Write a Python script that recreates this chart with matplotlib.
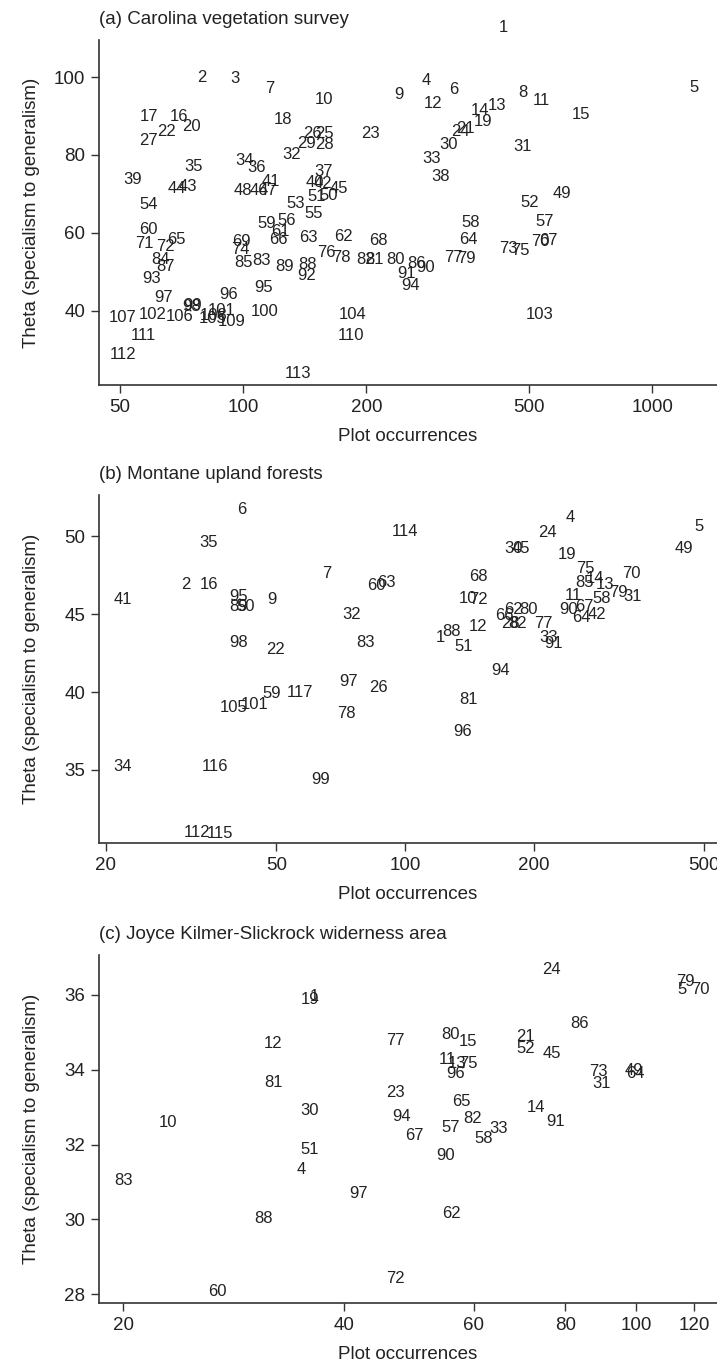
import matplotlib
matplotlib.use("Agg")
import matplotlib.pyplot as plt
from matplotlib.ticker import FixedLocator, NullLocator

plt.rcParams['font.family'] = ['Liberation Sans', 'DejaVu Sans']

# (a) Carolina vegetation survey
a_lab = ['1', '2', '3', '4', '5', '6', '7', '8', '9', '10', '11', '12', '13', '14', '15', '16', '17', '18', '19', '20',
         '21', '22', '23', '24', '25', '26', '27', '28', '29', '30', '31', '32', '33', '34', '35', '36', '37', '38', '39', '40',
         '41', '42', '43', '44', '45', '46', '47', '48', '49', '50', '51', '52', '53', '54', '55', '56', '57', '58', '59', '60',
         '61', '62', '63', '64', '65', '66', '67', '68', '69', '70', '71', '72', '73', '74', '75', '76', '77', '78', '79', '80',
         '81', '82', '83', '84', '85', '86', '87', '88', '89', '90', '91', '92', '93', '94', '95', '96', '97', '98', '99', '100',
         '101', '102', '103', '104', '105', '106', '107', '108', '109', '110', '111', '112', '113']
a_occ = [432, 79.4, 95.5, 281, 1266, 328, 116, 482, 241, 158, 537, 291, 417, 380, 669, 69.8, 59.0, 125, 385, 74.8,
         349, 64.8, 205, 339, 158, 148, 58.7, 158, 143, 317, 482, 131, 289, 100.5, 75.8, 108, 157, 304, 53.7, 150,
         117, 157, 73.2, 68.8, 171, 109, 115, 100, 601, 161.5, 151, 501, 134, 58.7, 148.5, 128, 547, 359, 114, 58.7,
         123, 176, 144, 355, 68.8, 122, 557, 214, 98.8, 532, 57.3, 64.4, 445, 98.4, 475, 159.5, 326, 174, 352, 236,
         210, 199, 111, 62.6, 100, 265, 64.4, 144, 126, 280, 251, 143, 59.8, 257, 112, 92, 63.8, 74.8, 75.3, 113,
         88.7, 60.1, 532, 185, 84, 69.8, 50.8, 84.6, 93.8, 183.5, 57.0, 50.9, 136]
a_theta = [112.8, 100.0, 99.7, 99.1, 97.4, 96.8, 97.1, 96.1, 95.4, 94.3, 94.1, 93.3, 92.8, 91.5, 90.3, 90.0, 89.8, 89.0, 88.5, 87.4,
           86.8, 86.0, 85.4, 86.0, 85.4, 85.4, 83.7, 82.8, 83.0, 82.6, 82.1, 80.0, 79.2, 78.5, 77.0, 76.8, 75.7, 74.4, 73.6, 72.9,
           73.2, 72.7, 71.9, 71.5, 71.5, 71.0, 70.8, 70.8, 70.2, 69.5, 69.3, 67.8, 67.6, 67.2, 64.9, 63.3, 62.9, 62.6, 62.5, 60.9,
           60.3, 59.1, 58.9, 58.4, 58.4, 58.2, 58.0, 58.0, 57.8, 57.8, 57.4, 56.5, 56.1, 55.8, 55.5, 55.0, 53.8, 53.8, 53.5, 53.3,
           53.1, 53.1, 52.9, 53.1, 52.4, 52.2, 51.5, 51.8, 51.4, 51.2, 49.5, 49.0, 48.4, 46.4, 46.1, 44.1, 43.5, 41.1, 41.4, 39.8,
           40.0, 39.2, 39.0, 39.0, 38.1, 38.5, 38.3, 38.7, 37.3, 33.8, 33.8, 28.7, 24.0]

# (b) Montane upland forests
b_lab = ['1', '2', '4', '5', '6', '7', '9', '10', '11', '12', '13', '14', '16', '19', '22', '24', '26', '28', '30', '31',
         '32', '33', '34', '35', '41', '42', '45', '49', '50', '51', '58', '59', '60', '62', '63', '64', '66', '67', '68', '70',
         '72', '75', '77', '78', '79', '80', '81', '82', '83', '85', '88', '89', '90', '91', '94', '95', '96', '97', '98', '99',
         '101', '105', '112', '114', '115', '116', '117']
b_occ = [120.6, 30.8, 242.8, 486.6, 41.6, 65.6, 48.8, 140.4, 247, 148.2, 293, 277.7, 34.8, 238.5, 49.9, 215.4, 86.5, 175.8, 178.9, 340,
         75, 216, 21.9, 34.8, 21.9, 280, 186, 448.8, 42.5, 136.7, 288, 48.8, 85.5, 178.9, 90.6, 258.5, 171, 263, 148.2, 337,
         148.2, 263.2, 210, 73, 314.8, 194, 141, 183, 80.6, 263, 128.5, 40.8, 240.6, 221.8, 167.5, 40.8, 136.3, 73.7, 40.8, 63.5,
         44.6, 39.7, 32.7, 99.9, 36.9, 36, 56.8]
b_theta = [43.5, 46.9, 51.2, 50.6, 51.7, 47.6, 45.9, 46.0, 46.2, 44.2, 46.9, 47.3, 46.9, 48.8, 42.7, 50.2, 40.3, 44.4, 49.2, 46.1,
           45.0, 43.5, 35.2, 49.6, 45.9, 45.0, 49.2, 49.2, 45.5, 42.9, 46.0, 39.9, 46.8, 45.3, 47.0, 44.8, 44.9, 45.5, 47.4, 47.6,
           45.9, 47.9, 44.4, 38.6, 46.4, 45.3, 39.5, 44.4, 43.2, 47.0, 43.9, 45.5, 45.3, 43.1, 41.4, 46.1, 37.5, 40.7, 43.2, 34.4,
           39.2, 39.0, 31.0, 50.3, 30.9, 35.2, 40.0]

# (c) Joyce Kilmer-Slickrock wilderness area
c_lab = ['1', '4', '5', '10', '11', '12', '13', '14', '15', '19', '21', '23', '24', '30', '31', '33', '45', '49', '51', '52',
         '57', '58', '60', '62', '64', '65', '67', '70', '72', '73', '75', '77', '79', '80', '81', '82', '83', '86', '88', '90',
         '91', '94', '96', '97']
c_occ = [36.4, 34.9, 115.3, 23.0, 55.2, 32.0, 57.0, 72.9, 59.0, 35.9, 70.7, 47.0, 76.7, 35.9, 89.7, 64.9, 76.8, 99.1, 35.9, 70.7,
         55.9, 61.9, 26.9, 55.9, 99.6, 57.8, 49.8, 122.1, 47.0, 88.7, 59.0, 47.0, 116.5, 55.9, 32.0, 59.8, 20.0, 83.8, 31.0, 54.9,
         77.7, 47.9, 56.8, 41.9]
c_theta = [35.95, 31.34, 36.15, 32.6, 34.28, 34.7, 34.17, 32.99, 34.75, 35.87, 34.9, 33.39, 36.67, 32.9, 33.62, 32.44, 34.44, 33.98, 31.86, 34.57,
           32.46, 32.17, 28.07, 30.16, 33.89, 33.15, 32.24, 36.15, 28.41, 33.95, 34.17, 34.78, 36.36, 34.93, 33.65, 32.7, 31.05, 35.24, 30.03, 31.7,
           32.61, 32.76, 33.89, 30.68]

W, H = 717, 1363
fig = plt.figure(figsize=(W / 100, H / 100), dpi=100)
ink = '#222222'

panels = [
    # title, labels, x, y, axes box in px (left, top, right, bottom), xlim, ylim, xticks, yticks
    ('(a) Carolina vegetation survey', a_lab, a_occ, a_theta, (99, 40, 717, 385),
     (44.4, 1441), (21.0, 109.5), [50, 100, 200, 500, 1000], [40, 60, 80, 100]),
    ('(b) Montane upland forests', b_lab, b_occ, b_theta, (99, 495, 717, 843),
     (19.27, 535.4), (30.32, 52.63), [20, 50, 100, 200, 500], [35, 40, 45, 50]),
    ('(c) Joyce Kilmer-Slickrock widerness area', c_lab, c_occ, c_theta, (99, 955, 717, 1303),
     (18.53, 128.8), (27.76, 37.07), [20, 40, 60, 80, 100, 120], [28, 30, 32, 34, 36]),
]

for title, lab, xs, ys, box, xlim, ylim, xt, yt in panels:
    l, t, r, b = box
    ax = fig.add_axes([l / W, 1 - b / H, (r - l) / W, (b - t) / H])
    ax.set_xscale('log')
    ax.set_xlim(*xlim)
    ax.set_ylim(*ylim)
    for s, x, y in zip(lab, xs, ys):
        ax.text(x, y, s, ha='center', va='center', fontsize=12, color=ink, clip_on=False)
    ax.xaxis.set_major_locator(FixedLocator(xt))
    ax.xaxis.set_minor_locator(NullLocator())
    ax.set_xticklabels([str(v) for v in xt])
    ax.set_yticks(yt)
    ax.set_yticklabels([str(v) for v in yt])
    for side in ('top', 'right'):
        ax.spines[side].set_visible(False)
    for side in ('left', 'bottom'):
        ax.spines[side].set_linewidth(1.2)
        ax.spines[side].set_color('#333333')
    ax.tick_params(length=6, width=1.0, color='#333333', pad=4, labelsize=13.5, labelcolor=ink)
    ax.patch.set_alpha(0)
    # panel title, x label, y label
    fig.text(l / W, 1 - (t - 16) / H, title, ha='left', va='baseline', fontsize=13.5, color=ink)
    fig.text((l + r) / 2 / W, 1 - (b + 56) / H, 'Plot occurrences', ha='center', va='baseline',
             fontsize=13.5, color=ink)
    fig.text(32 / W, 1 - (t + b) / 2 / H, 'Theta (specialism to generalism)', rotation=90,
             ha='center', va='center', fontsize=13.5, color=ink)

fig.savefig('out.png', dpi=100)
